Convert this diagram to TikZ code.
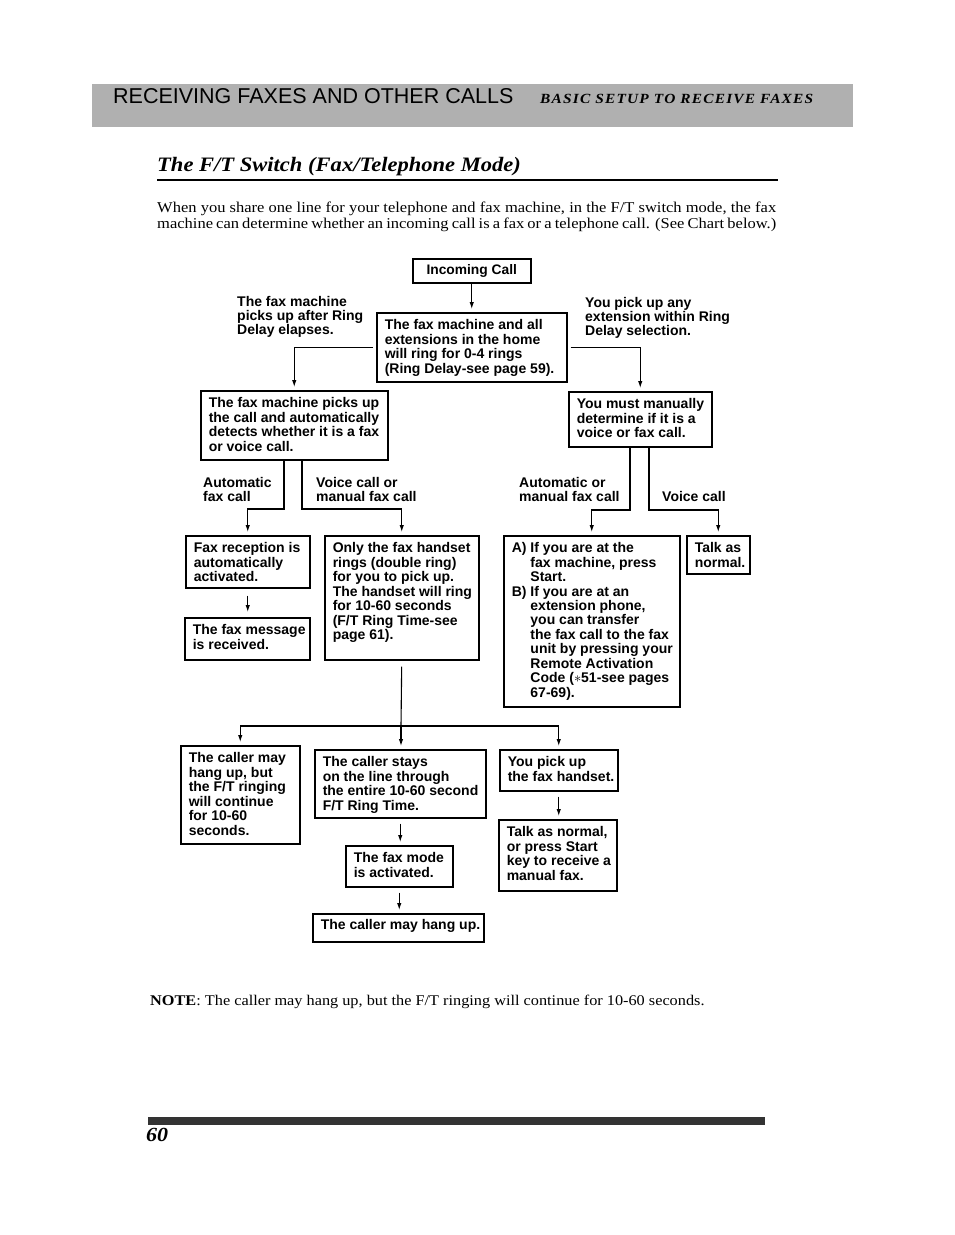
\documentclass[tikz,border=0pt]{standalone}
\usepackage{fontspec}
\setmainfont{Liberation Serif}[FakeStretch=1.1]
\newfontfamily\flowfam{Liberation Sans}
\usetikzlibrary{arrows.meta}
\newcommand\flow{\flowfam\bfseries\fontsize{14}{14.3}\selectfont}
\newcommand\bt[3]{\parbox[c][#2][t]{#1}{\begin{tabular}[t]{@{}l@{}}#3\end{tabular}}}
\newcommand\ind{\hspace*{18.7pt}}
\definecolor{band}{RGB}{176,176,176}
\begin{document}
\begin{tikzpicture}[x=1pt,y=1pt,
  box/.style={draw, line width=1.5pt, anchor=north west, inner xsep=8pt, inner ysep=7pt, font=\flow},
  con/.style={line width=1.1pt},
  arr/.style={con, -{Latex[length=7pt,width=4.5pt]}, shorten >=3pt},
  lbl/.style={anchor=north west, inner sep=0pt, align=left, font=\flow},
  txt/.style={anchor=base west, inner sep=0pt, font=\fontsize{15}{16}\selectfont}]
\useasboundingbox (0,0) rectangle (954,-1235);

% header band
\fill[band] (92,-84) rectangle (853,-127);
\node[anchor=base west, inner sep=0pt, font=\flowfam\fontsize{21.5}{21.5}\selectfont] (hdr) at (113,-103) {RECEIVING FAXES AND OTHER CALLS};
\node[anchor=base west, inner sep=0pt, font=\bfseries\itshape\fontsize{14}{14}\selectfont] (sub) at (540,-103) {\addfontfeature{LetterSpace=8.5}BASIC SETUP TO RECEIVE FAXES};

% title
\node[anchor=base west, inner sep=0pt, font=\bfseries\itshape\fontsize{20.5}{20.5}\selectfont] (title) at (157,-171) {The F/T Switch (Fax/Telephone Mode)};
\draw[line width=1.5pt] (157,-180) -- (778,-180);

\node[txt] (p1) at (157,-212) {\makebox[619pt][s]{When you share one line for your telephone and fax machine, in the F/T switch mode, the fax}};
\node[txt] (p2) at (157,-228) {\makebox[619pt][s]{machine can determine whether an incoming call is a fax or a telephone call. (See Chart below.)}};

% flowchart boxes
\node[draw, line width=1.5pt, anchor=north west, inner sep=0pt, minimum width=118pt, minimum height=24pt, font=\flowfam\bfseries\fontsize{13.8}{14}\selectfont] (inc) at (412,-258) {Incoming Call};

\node[box] (ring) at (376,-312) {\bt{174pt}{55pt}{The fax machine and all\\extensions in the home\\will ring for 0-4 rings\\(Ring Delay-see page 59).}};

\node[lbl] (lblL) at (237,-296) {The fax machine\\picks up after Ring\\Delay elapses.};
\node[lbl] (lblR) at (585,-297) {You pick up any\\extension within Ring\\Delay selection.};

\node[box] (fpick) at (200,-390) {\bt{171pt}{55pt}{The fax machine picks up\\the call and automatically\\detects whether it is a fax\\or voice call.}};
\node[box] (manual) at (568,-391) {\bt{127pt}{41pt}{You must manually\\determine if it is a\\voice or fax call.}};

\node[lbl] (lblA) at (203,-477) {Automatic\\fax call};
\node[lbl] (lblV) at (316,-477) {Voice call or\\manual fax call};
\node[lbl] (lblAM) at (519,-477) {Automatic or\\manual fax call};
\node[lbl] (lblVC) at (662,-491) {Voice call};

\node[box] (frecv) at (185,-535) {\bt{108pt}{38pt}{Fax reception is\\automatically\\activated.}};
\node[box] (fmsg) at (184,-617) {\bt{109pt}{28pt}{The fax message\\is received.}};
\node[box] (only) at (324,-535) {\bt{138pt}{110pt}{Only the fax handset\\rings (double ring)\\for you to pick up.\\The handset will ring\\for 10-60 seconds\\(F/T Ring Time-see\\page 61).}};
\node[box] (ab) at (503,-535) {\bt{160pt}{157pt}{A) If you are at the\\\ind fax machine, press\\\ind Start.\\B) If you are at an\\\ind extension phone,\\\ind you can transfer\\\ind the fax call to the fax\\\ind unit by pressing your\\\ind Remote Activation\\\ind Code ($\ast$51-see pages\\\ind 67-69).}};
\node[box] (talk) at (686,-535) {\bt{47pt}{24pt}{Talk as\\normal.}};

\node[box] (hang) at (180,-745) {\bt{103pt}{84pt}{The caller may\\hang up, but\\the F/T ringing\\will continue\\for 10-60\\seconds.}};
\node[box] (stays) at (314,-749) {\bt{155pt}{54pt}{The caller stays\\on the line through\\the entire 10-60 second\\F/T Ring Time.}};
\node[box] (youpick) at (499,-749) {\bt{102pt}{27pt}{You pick up\\the fax handset.}};
\node[box] (fmode) at (345,-845) {\bt{91pt}{27pt}{The fax mode\\is activated.}};
\node[box, inner ysep=6pt] (hangup) at (312,-913) {\bt{155pt}{16pt}{The caller may hang up.}};
\node[box] (talk2) at (498,-819) {\bt{102pt}{57pt}{Talk as normal,\\or press Start\\key to receive a\\manual fax.}};

% connectors
\draw[arr] (inc) -- (ring);
\draw[arr, shorten <=3pt] (ring.west) -| (fpick.north);
\draw[arr, shorten <=3pt] (ring.east) -| (manual.north);

\coordinate (la) at (284,-509);
\coordinate (lb) at (302,-509);
\draw[arr] (fpick.south -| la) -- (la) -| (frecv.north);
\draw[arr] (fpick.south -| lb) -- (lb) -| (only.north);

\coordinate (ra) at (630,-510);
\coordinate (rb) at (649,-510);
\draw[arr] (manual.south -| ra) -- (ra) -| (ab.north);
\draw[arr] (manual.south -| rb) -- (rb) -| (talk.north);

\draw[arr, shorten <=7pt, shorten >=5pt] (frecv.south) -- (frecv.south |- fmsg.north);

\coordinate (jb) at (401,-726);
\draw[con, shorten <=6pt] (only.south) -- (jb);
\draw[arr] (jb) -| (hang.north);
\draw[arr] (jb) -- (jb |- stays.north);
\draw[arr] (jb) -| (youpick.north);

\draw[arr, shorten <=5pt] (stays.south) -- (stays.south |- fmode.north);
\draw[arr, shorten <=5pt] (fmode.south) -- (fmode.south |- hangup.north);
\draw[arr, shorten <=5pt] (youpick.south) -- (youpick.south |- talk2.north);

% note and footer
\node[txt, font=\fontsize{14.8}{16}\selectfont] (note) at (150,-1005) {\textbf{NOTE}: The caller may hang up, but the F/T ringing will continue for 10-60 seconds.};
\fill[black!80] (148,-1117) rectangle (765,-1125);
\node[anchor=base west, inner sep=0pt, font=\bfseries\itshape\fontsize{20}{20}\selectfont] (pg) at (146,-1141) {60};
\end{tikzpicture}
\end{document}
